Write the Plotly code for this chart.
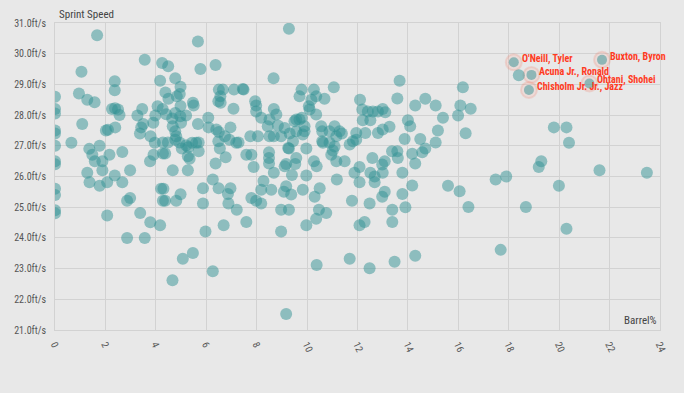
import plotly.graph_objects as go

# ---- data ----
barrel = [
    0, 0, 0, 0, 0, 0, 0, 0, 0, 0, 0, 0,
    1.67, 1.05, 0.95, 1.28, 1.57, 1.08, 0.65, 1.36, 1.77, 1.48, 1.58, 1.88, 2.16, 1.88, 1.28, 1.37, 1.77, 2.07,
    2.37, 2.67, 2.67, 2.98, 2.37, 2.37, 2.26, 2.38, 2.5, 2.56, 2.39, 2.1, 2.02,
    2.98, 2.86, 2.07, 3.38, 3.78, 4.17, 2.86, 3.56,
    3.56, 4.17, 4.25, 4.49, 4.77, 4.98, 4.95, 4.38, 4.5, 4.83, 4.07, 4.27, 3.46, 3.27, 3.98, 3.5, 3.42, 3.9,
    3.37, 3.79, 3.96,
    4.41, 4.65, 4.77, 4.97, 4.98, 5.2, 5.0, 4.67, 4.77, 4.81, 4.77, 4.28, 4.48, 4.94, 5.2,
    5.44, 5.6, 5.7, 5.03, 5.29, 5.7, 4.28, 4.37, 3.91, 3.77, 5.27, 5.34, 4.67, 5.27,
    5.67, 5.77, 6.37, 6.08, 5.67, 5.47, 5.5,
    4.98, 4.21, 4.3, 4.28, 4.37, 4.81,
    5.07, 5.47, 4.66, 6.26,
    6.5, 6.66, 6.56, 6.48, 6.57, 7.1, 7.08, 6.09, 6.4, 6.5, 6.96, 6.74, 6.92, 6.48, 7.19, 6.54, 6.77, 6.37,
    6.26, 6.49, 5.87, 6.86, 6.96, 5.87, 6.88, 7.21, 6.69, 5.97,
    7.48, 7.45, 7.28, 7.59, 7.79, 7.88, 7.59, 7.79, 7.98, 8.18, 8.18, 8.58, 8.27,
    9.28, 8.67, 7.94, 7.98, 7.98, 8.68, 8.78, 8.18, 8.51, 8.44, 8.84, 9.11, 9.5, 9.57, 9.7, 9.79,
    9.78, 9.7, 10.27, 10.36, 10.17, 10.69, 10.1, 10.07, 10.36, 9.9, 9.9, 9.83, 9.57, 9.31, 9.44,
    8.97, 8.68, 8.51, 8.05, 7.75, 8.49, 8.49, 8.49, 8.68, 9.28, 9.25, 9.57, 9.53, 9.17, 9.11, 9.97,
    10.27, 10.38, 9.4, 9.97,
    9.17, 9.08, 9.37, 9.83, 10.3, 10.5, 9.97, 10.47, 10.76, 10.36, 8.97, 9.28, 8.97,
    10.38, 9.17,
    11.06, 10.56, 10.6, 10.6, 10.63, 10.89, 11.09, 11.29, 11.16, 11.38, 10.89, 11.09, 10.96, 11.02,
    11.16, 11.49, 11.18,
    12.1, 12.19, 12.41, 12.61, 12.81, 13.0, 13.1, 12.21, 12.51, 11.95, 11.82, 11.69, 11.95, 12.31,
    12.81, 13.0, 13.27, 13.58, 13.67,
    12.59, 13.08, 12.98, 12.08, 11.88, 12.08, 12.51, 12.68, 13.0, 12.68, 13.78, 14.17, 13.78, 13.08,
    12.98, 11.78, 12.48, 13.38, 13.38, 13.9, 12.08, 12.28, 11.69, 12.48, 13.47, 14.29,
    14.29, 14.69, 15.1, 15.39, 14.0, 14.09, 13.87, 14.49, 15.19, 15.1, 14.69, 14.57, 14.17, 14.29,
    13.37, 13.58, 13.6, 15.59, 16.05, 16.18, 16.08, 16.49, 15.99, 16.29, 16.4,
    19.79, 20.29, 20.39, 19.29, 19.19, 21.6, 23.48, 17.48, 17.9, 19.99, 18.68, 20.29, 17.68, 18.4,
]
sprint = [
    28.6, 28.2, 28.05, 27.5, 27.4, 27.0, 26.5, 26.4, 25.6, 25.4, 24.9, 24.8,
    30.6, 29.41, 28.7, 28.5, 28.42, 27.71, 27.1, 26.9, 27.0, 26.71, 26.5, 26.5, 26.71, 26.2, 26.12, 25.81, 25.7, 25.81,
    26.03, 25.81, 26.8, 26.2, 29.1, 28.81, 28.2, 28.22, 28.18, 28.0, 27.6, 27.52, 27.5,
    25.3, 25.21, 24.73, 24.81, 24.51, 24.41, 24.0, 24.0,
    29.8, 29.12, 29.7, 29.59, 29.2, 28.92, 28.69, 28.74, 28.53, 28.61, 28.29, 28.2, 28.2, 27.99, 27.99, 27.71, 27.6, 27.75,
    27.4, 27.31, 27.1,
    28.03, 27.89, 28.07, 27.96, 28.3, 27.99, 27.75, 27.64, 27.47, 27.31, 27.2, 27.11, 27.11, 27.11, 27.02,
    27.1, 27.1, 27.11, 26.91, 26.95, 26.82, 26.75, 26.75, 26.71, 26.5, 26.66, 26.58, 26.2, 26.2,
    30.4, 29.5, 29.63, 27.91, 27.71, 28.4, 28.31,
    25.42, 25.6, 25.6, 25.21, 25.21, 25.21,
    23.32, 23.51, 22.62, 22.91,
    28.83, 28.83, 28.61, 28.45, 28.4, 28.83, 28.21, 27.6, 27.53, 27.45, 27.6, 27.31, 27.2, 27.15, 27.1, 26.91, 26.63, 26.42,
    25.9, 25.62, 25.62, 25.43, 25.62, 25.12, 25.12, 24.92, 24.41, 24.21,
    28.83, 28.85, 27.11, 26.71, 26.71, 26.31, 24.52, 25.3, 25.21, 25.12, 25.57, 25.57, 25.85,
    30.81, 29.2, 28.45, 28.31, 28.12, 28.2, 28.02, 27.91, 27.86, 27.64, 27.66, 27.58, 27.8, 27.86, 27.86, 27.91,
    28.83, 28.61, 28.83, 28.61, 28.5, 28.53, 28.18, 28.29, 28.02, 27.64, 27.47, 27.37, 27.47, 27.4, 27.15,
    27.31, 27.31, 27.31, 27.31, 27.31, 26.79, 26.6, 26.42, 26.12, 26.91, 26.93, 26.6, 26.41, 26.41, 26.33, 26.91,
    26.5, 26.33, 26.05, 26.03,
    25.68, 25.5, 25.41, 25.57, 25.34, 25.62, 24.41, 24.92, 24.81, 24.62, 24.92, 24.92, 24.21,
    23.12, 21.52,
    28.91, 27.64, 27.47, 27.15, 27.1, 27.47, 27.64, 27.47, 27.31, 27.4, 27.1, 26.98, 26.71, 26.85,
    26.5, 26.5, 25.9,
    28.5, 28.18, 28.12, 28.12, 28.12, 28.2, 28.09, 27.83, 27.83, 27.42, 27.15, 27.04, 27.2, 27.42,
    27.42, 27.53, 27.62, 28.54, 29.12,
    26.6, 26.5, 26.39, 26.31, 26.12, 25.81, 26.12, 26.0, 26.12, 25.81, 26.12, 25.71, 25.43, 25.5,
    25.34, 25.21, 25.12, 24.92, 24.52, 25.0, 24.41, 24.52, 23.32, 23.01, 23.22, 23.42,
    28.31, 28.53, 28.31, 27.91, 27.83, 27.64, 27.22, 27.22, 27.5, 27.11, 26.91, 26.79, 26.74, 26.42,
    26.82, 26.82, 26.6, 25.7, 25.52, 28.91, 28.31, 28.21, 27.99, 27.41, 25.01,
    27.6, 27.6, 27.1, 26.5, 26.31, 26.2, 26.12, 25.9, 26.0, 25.7, 25.01, 24.3, 23.61, 29.3,
]

hl_names = ["O'Neill, Tyler", "Buxton, Byron", "Acuna Jr., Ronald", "Chisholm Jr. Jr., Jazz", "Ohtani, Shohei"]
hl_barrel = [18.2, 21.7, 18.9, 18.8, 21.2]
hl_sprint = [29.72, 29.8, 29.31, 28.82, 29.03]

x_ticks = [0, 2, 4, 6, 8, 10, 12, 14, 16, 18, 20, 22, 24]
y_ticks = [21, 22, 23, 24, 25, 26, 27, 28, 29, 30, 31]
y_tick_labels = ["21.0ft/s", "22.0ft/s", "23.0ft/s", "24.0ft/s", "25.0ft/s", "26.0ft/s",
                 "27.0ft/s", "28.0ft/s", "29.0ft/s", "30.0ft/s", "31.0ft/s"]

BG = "#e8e8e8"
GRID = "#d2d2d2"
TEAL = "rgba(50,145,148,0.5)"
RED = "#ff3b1f"
FONT = "Roboto Condensed, Liberation Sans Narrow, Roboto, sans-serif"

fig = go.Figure()

# halos behind highlighted players
fig.add_trace(go.Scatter(
    x=hl_barrel, y=hl_sprint, mode="markers",
    marker=dict(size=16, color="rgba(255,150,130,0.15)",
                line=dict(width=2, color="rgba(240,110,90,0.18)")),
    hoverinfo="skip", showlegend=False,
))

fig.add_trace(go.Scatter(
    x=barrel, y=sprint, mode="markers",
    marker=dict(size=12, color=TEAL, line=dict(width=0)),
    showlegend=False,
))

fig.add_trace(go.Scatter(
    x=hl_barrel, y=hl_sprint, mode="markers",
    marker=dict(size=10, color=TEAL, line=dict(width=0)),
    showlegend=False,
))

for name, bx, sy in zip(hl_names, hl_barrel, hl_sprint):
    fig.add_annotation(
        x=bx, y=sy, text=name, showarrow=False,
        xanchor="left", yanchor="middle", xshift=6, yshift=3,
        font=dict(family=FONT, size=10, color=RED, weight="bold"),
    )

fig.add_annotation(
    xref="paper", yref="paper", x=0, y=1, text="Sprint Speed",
    showarrow=False, xanchor="left", yanchor="bottom", xshift=2, yshift=0,
    font=dict(family=FONT, size=11, color="#444"),
)
fig.add_annotation(
    xref="paper", yref="paper", x=1, y=0, text="Barrel%",
    showarrow=False, xanchor="right", yanchor="bottom", xshift=-1, yshift=1,
    font=dict(family=FONT, size=11, color="#444"),
)

fig.update_layout(
    width=684, height=393,
    margin=dict(l=55, r=24, t=23, b=63),
    paper_bgcolor=BG, plot_bgcolor=BG,
    font=dict(family=FONT, size=10, color="#555"),
    xaxis=dict(
        range=[0, 24], tickvals=x_ticks, tickangle=65,
        showgrid=True, gridcolor=GRID, gridwidth=1,
        zeroline=False, showline=True, linecolor=GRID, mirror=True,
        ticks="", ticklabelstandoff=4,
        tickfont=dict(family=FONT, size=10, color="#555"),
    ),
    yaxis=dict(
        range=[21, 31], tickmode="array", tickvals=y_ticks, ticktext=y_tick_labels,
        showgrid=True, gridcolor=GRID, gridwidth=1,
        zeroline=False, showline=True, linecolor=GRID, mirror=True,
        ticks="", ticklabelstandoff=6,
        tickfont=dict(family=FONT, size=10, color="#555"),
    ),
)

fig.write_html(
    "out.html",
    config={"displayModeBar": False},
    post_script="document.body.style.margin='0';document.body.style.background='#e8e8e8';document.body.style.overflow='hidden';",
)
